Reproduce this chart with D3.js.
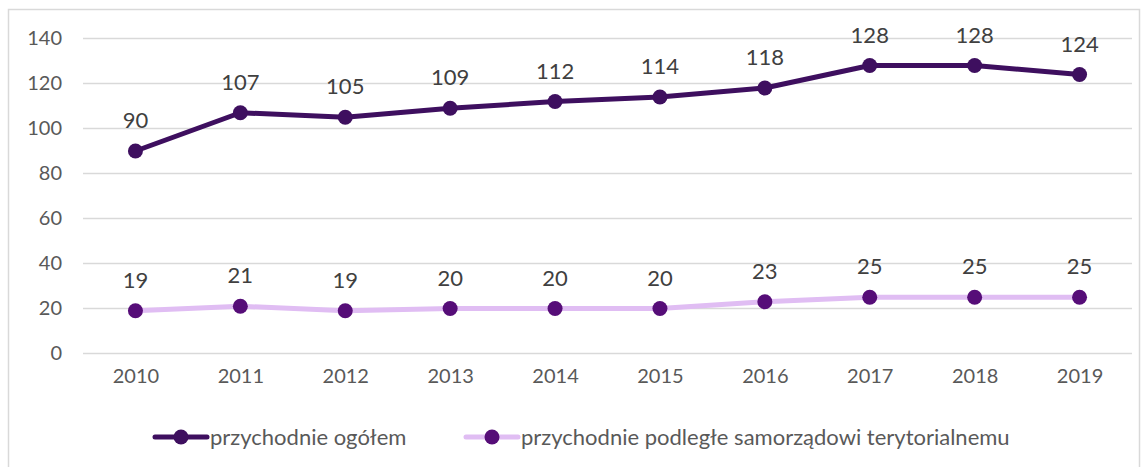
<!DOCTYPE html>
<html>
<head>
<meta charset="utf-8">
<script src="https://cdn.jsdelivr.net/npm/d3@7"></script>
<style>
  body { margin: 0; background: #fff; }
  svg { display: block; font-family: "Lato", "Open Sans", sans-serif; }
</style>
</head>
<body>
<svg id="canvas" width="1148" height="467"></svg>
<script>
var years = ["2010", "2011", "2012", "2013", "2014", "2015", "2016", "2017", "2018", "2019"];
var ogolem = [90, 107, 105, 109, 112, 114, 118, 128, 128, 124];
var samorzad = [19, 21, 19, 20, 20, 20, 23, 25, 25, 25];
var yTicks = [0, 20, 40, 60, 80, 100, 120, 140];
var seriesNames = ["przychodnie ogółem", "przychodnie podległe samorządowi terytorialnemu"];

var series = [
  {name: seriesNames[0], values: ogolem, line: "#3e0f5f", dot: "#3e0f5f"},
  {name: seriesNames[1], values: samorzad, line: "#e0bdf3", dot: "#560d78"}
];

var svg = d3.select("#canvas");

// outer frame
svg.append("rect")
  .attr("x", 8.5).attr("y", 9.5)
  .attr("width", 1131).attr("height", 470)
  .attr("fill", "none")
  .attr("stroke", "#d9d9d9")
  .attr("stroke-width", 1.5);

var x = d3.scalePoint().domain(years).range([83, 1132]).padding(0.5);
var y = d3.scaleLinear().domain([0, 140]).range([353.5, 38.5]);

// gridlines
svg.selectAll(".grid")
  .data(yTicks)
  .enter().append("line")
  .attr("class", "grid")
  .attr("x1", 83).attr("x2", 1132)
  .attr("y1", function(d) { return y(d); })
  .attr("y2", function(d) { return y(d); })
  .attr("stroke", "#d9d9d9")
  .attr("stroke-width", 1.5);

// y axis labels
var yAxis = d3.axisLeft(y).tickValues(yTicks).tickSize(0).tickPadding(0);
var gy = svg.append("g").attr("transform", "translate(62,0)").call(yAxis);
gy.select(".domain").remove();
gy.selectAll("text")
  .attr("fill", "#595959")
  .style("font-size", "20px")
  .style("font-family", "Lato, sans-serif");

// x axis labels
var xAxis = d3.axisBottom(x).tickSize(0).tickPadding(0);
var gx = svg.append("g").attr("transform", "translate(0,369)").call(xAxis);
gx.select(".domain").remove();
gx.selectAll("text")
  .attr("fill", "#595959")
  .style("font-size", "20px")
  .style("font-family", "Lato, sans-serif");

var line = d3.line()
  .x(function(d, i) { return x(years[i]); })
  .y(function(d) { return y(d); });

series.forEach(function(s) {
  svg.append("path")
    .datum(s.values)
    .attr("d", line)
    .attr("fill", "none")
    .attr("stroke", s.line)
    .attr("stroke-width", 5)
    .attr("stroke-linejoin", "round");

  svg.selectAll(null)
    .data(s.values)
    .enter().append("circle")
    .attr("cx", function(d, i) { return x(years[i]); })
    .attr("cy", function(d) { return y(d); })
    .attr("r", 7.5)
    .attr("fill", s.dot);

  svg.selectAll(null)
    .data(s.values)
    .enter().append("text")
    .attr("x", function(d, i) { return x(years[i]); })
    .attr("y", function(d) { return y(d) - 23; })
    .attr("text-anchor", "middle")
    .attr("fill", "#404040")
    .style("font-size", "22px")
    .text(function(d) { return d; });
});

// legend
var legendX = [155, 466];
series.forEach(function(s, i) {
  var g = svg.append("g").attr("transform", "translate(" + legendX[i] + ",437)");
  g.append("line")
    .attr("x1", 0).attr("x2", 52)
    .attr("y1", 0).attr("y2", 0)
    .attr("stroke", s.line)
    .attr("stroke-width", 5)
    .attr("stroke-linecap", "round");
  g.append("circle")
    .attr("cx", 26).attr("cy", 0).attr("r", 7.5)
    .attr("fill", s.dot);
  g.append("text")
    .attr("x", 55).attr("y", 0)
    .attr("dy", "0.35em")
    .attr("fill", "#595959")
    .style("font-size", "22px")
    .text(s.name);
});
</script>
</body>
</html>
